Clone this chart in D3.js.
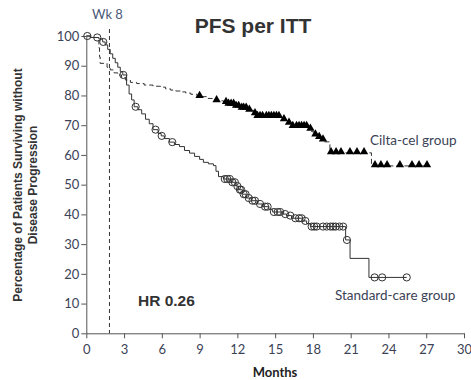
<!DOCTYPE html>
<html><head><meta charset="utf-8">
<script src="https://cdn.jsdelivr.net/npm/d3@7"></script>
<style>body{margin:0;background:#fff}svg{display:block}</style>
</head><body>
<script>
// ---- data ----
const xTicks = [0,3,6,9,12,15,18,21,24,27,30];
const yTicks = [0,10,20,30,40,50,60,70,80,90,100];
// Cilta-cel: step times (months) and survival (%) after each step
const ciltaTimes = [0,0.5,0.9,1.0,1.05,1.1,1.65,1.9,2.2,2.5,2.8,3.1,3.5,4.0,4.6,5.3,5.9,6.3,6.7,7.1,7.5,7.9,8.3,8.8,9.6,10.0,10.3,10.9,11.3,11.8,12.3,12.8,13.3,13.5,15.5,15.9,16.3,17.7,17.9,18.1,18.4,18.7,18.9,19.35,22.65];
const ciltaSurv  = [100,99.5,98.5,96,93,90.8,89.5,88.6,87.6,86.9,86,85.2,84.4,84.0,83.5,83.1,82.8,82.2,81.8,81.5,81.2,80.8,80.4,79.6,79.0,78.6,78.2,77.6,77.0,76.3,75.7,75.0,73.8,72.9,71.8,70.6,69.5,68.6,67.8,66.7,65.8,65.0,64.4,60.7,56.3];
const ciltaEnd = 27.3;
const ciltaCensor = [9.0,10.35,11.1,11.3,11.5,11.7,11.9,12.1,12.35,12.5,12.7,12.95,13.4,13.6,13.8,14.0,14.3,14.5,14.7,14.9,15.1,15.3,15.7,16.1,16.4,16.7,16.9,17.1,17.3,17.5,17.8,18.2,18.5,18.8,19.44,19.84,20.23,20.94,21.5,22.06,22.93,23.4,23.89,24.91,25.87,26.43,27.06];
// Standard care
const stdTimes = [0,0.3,1.0,1.3,1.5,1.7,1.9,2.1,2.3,2.5,2.7,2.9,3.2,3.4,3.6,3.8,4.1,4.4,4.7,5.0,5.3,5.7,5.95,6.2,6.6,7.0,7.4,7.8,8.2,8.6,9.0,9.3,9.7,10.1,10.3,10.5,10.9,11.5,11.9,12.1,12.4,12.7,13.1,13.6,14.0,14.5,14.8,15.6,15.9,16.3,17.2,17.5,17.8,20.6,20.95,22.45];
const stdSurv  = [100,99.5,99.0,98.0,97.0,95.5,94.0,92.5,91.0,89.5,88.0,86.9,83.5,80.5,78.5,76.2,75.2,73.8,72.0,70.5,68.5,67.2,66.4,65.5,64.3,63.5,62.8,61.5,60.6,59.5,58.5,57.5,57.0,56.4,54.5,52.7,51.9,50.8,49.5,48.3,46.8,45.5,44.6,43.5,42.6,41.7,40.8,40.1,39.6,38.7,37.8,36.9,35.9,31.4,25.2,18.8];
const stdEnd = 25.45;
const stdCensor = [0.08,0.87,1.35,2.94,3.92,5.5,5.99,6.83,11.0,11.2,11.4,11.6,11.8,12.0,12.2,12.3,12.5,12.65,12.9,13.2,13.4,13.8,14.2,14.4,14.9,15.2,15.4,15.8,16.2,16.6,16.9,17.1,17.4,17.9,18.1,18.3,18.8,19.1,19.4,19.6,19.8,20.1,20.4,20.7,22.9,23.5,25.45];
const wk8 = 1.84;
const hrText = "HR 0.26";

// ---- layout ----
const W = 471, H = 380;
const svg = d3.select("body").append("svg").attr("width", W).attr("height", H);
const x = d3.scaleLinear().domain([0,30]).range([86.3,464]);
const y = d3.scaleLinear().domain([0,100]).range([333.3,36]);
const tickCol = "#3b4256";
const lab = "Lato, 'Open Sans', sans-serif";

// axes
const gx = svg.append("g").attr("transform", `translate(0,${y(0)})`)
  .call(d3.axisBottom(x).tickValues(xTicks).tickSize(5).tickSizeOuter(0));
gx.select(".domain").attr("stroke","#555");
gx.selectAll(".tick line").attr("stroke","#555");
gx.selectAll("text").attr("font-family",lab).attr("font-size",13).attr("fill",tickCol).attr("dy","0.95em");
const gy = svg.append("g").attr("transform", `translate(${x(0)},0)`)
  .call(d3.axisLeft(y).tickValues(yTicks).tickSize(5).tickSizeOuter(0));
gy.select(".domain").attr("stroke","#555");
gy.selectAll(".tick line").attr("stroke","#555");
gy.selectAll("text").attr("font-family",lab).attr("font-size",13).attr("fill",tickCol).attr("x",-7);

// Wk 8 dashed line
svg.append("line").attr("x1",x(wk8)).attr("x2",x(wk8)).attr("y1",29).attr("y2",y(0))
  .attr("stroke","#333").attr("stroke-width",1).attr("stroke-dasharray","4,3");
svg.append("text").attr("x",x(wk8)-2).attr("y",19).attr("text-anchor","middle")
  .attr("font-family",lab).attr("font-size",13).attr("fill","#4a5878").text("Wk 8");

// curves
function stepPts(times, surv, end){
  const p = times.map((t,i)=>[t,surv[i]]);
  p.push([end, surv[surv.length-1]]);
  return p;
}
function survAt(times, surv, t){
  let v = surv[0];
  for(let i=0;i<times.length;i++){ if(times[i] <= t) v = surv[i]; }
  return v;
}
const line = d3.line().x(d=>x(d[0])).y(d=>y(d[1])).curve(d3.curveStepAfter);
svg.append("path").attr("d", line(stepPts(stdTimes,stdSurv,stdEnd)))
  .attr("fill","none").attr("stroke","#333").attr("stroke-width",1);
svg.append("path").attr("d", line(stepPts(ciltaTimes,ciltaSurv,ciltaEnd)))
  .attr("fill","none").attr("stroke","#333").attr("stroke-width",1).attr("stroke-dasharray","5,3");

// censor marks
svg.append("g").selectAll("circle").data(stdCensor).join("circle")
  .attr("cx",d=>x(d)).attr("cy",d=>y(survAt(stdTimes,stdSurv,d)))
  .attr("r",3.6).attr("fill","none").attr("stroke","#333").attr("stroke-width",1);
const tri = d3.symbol().type(d3.symbolTriangle).size(30);
svg.append("g").selectAll("path").data(ciltaCensor).join("path")
  .attr("d",tri).attr("transform",d=>`translate(${x(d)},${y(survAt(ciltaTimes,ciltaSurv,d))-1})`)
  .attr("fill","#000");

// labels
svg.append("text").attr("x",253).attr("y",33).attr("text-anchor","middle")
  .attr("font-family","'Liberation Sans', Arial, sans-serif").attr("font-weight","bold")
  .attr("font-size",21).attr("fill","#333").text("PFS per ITT");
svg.append("text").attr("x",138).attr("y",306)
  .attr("font-family","'Liberation Sans', Arial, sans-serif").attr("font-weight","bold")
  .attr("font-size",15.5).attr("fill","#333").text(hrText);
svg.append("text").attr("x",370).attr("y",145)
  .attr("font-family",lab).attr("font-size",13.5).attr("fill",tickCol).text("Cilta-cel group");
svg.append("text").attr("x",335).attr("y",299.5)
  .attr("font-family",lab).attr("font-size",13.5).attr("fill",tickCol).text("Standard-care group");
svg.append("text").attr("x",275).attr("y",377).attr("text-anchor","middle")
  .attr("font-family",lab).attr("font-weight","bold").attr("font-size",13).attr("fill","#222").text("Months");
const yl = svg.append("text").attr("transform","translate(22,185) rotate(-90)").attr("text-anchor","middle")
  .attr("font-family","'Liberation Sans', Arial, sans-serif").attr("font-weight","bold")
  .attr("font-size",12).attr("fill","#333");
yl.append("tspan").attr("x",0).attr("dy",0).text("Percentage of Patients Surviving without");
yl.append("tspan").attr("x",0).attr("dy",15).text("Disease Progression");
</script>
</body></html>
